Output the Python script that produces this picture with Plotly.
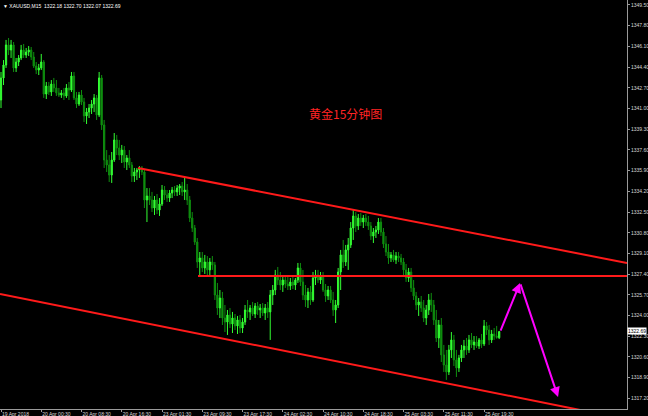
import plotly.graph_objects as go

# ---------------- data (30-minute sampling of the XAUUSD M15 chart) ----------------
close = [1343.51,1344.57,1346.22,1345.80,1346.22,1344.33,1344.82,1345.15,1345.80,1345.39,
         1345.64,1345.80,1345.23,1344.49,1344.16,1344.33,1344.82,1342.19,1342.85,1342.36,
         1343.01,1342.69,1342.28,1342.11,1342.28,1342.03,1342.69,1342.52,1343.67,1341.87,
         1341.37,1342.11,1341.54,1340.39,1340.71,1341.04,1341.37,1341.87,1340.47,1343.51,
         1339.65,1336.77,1336.36,1335.54,1336.77,1338.42,1337.76,1337.18,1337.59,1336.61,
         1336.94,1336.36,1335.46,1335.79,1335.95,1336.12,1335.79,1333.49,1333.82,1333.49,
         1332.83,1333.49,1332.67,1333.16,1334.31,1333.90,1333.65,1334.06,1334.31,1334.15,
         1334.47,1334.64,1334.15,1334.31,1333.49,1332.01,1331.19,1330.04,1328.40,1328.73,
         1327.91,1328.40,1327.75,1328.40,1328.15,1325.69,1324.62,1325.44,1323.80,1323.47,
         1324.05,1323.31,1323.80,1323.15,1323.64,1322.98,1323.47,1324.46,1324.30,1324.62,
         1324.13,1324.79,1324.46,1324.62,1324.21,1324.62,1324.30,1325.69,1326.10,1327.33,
         1326.92,1326.51,1326.92,1326.59,1326.43,1326.76,1326.51,1326.92,1327.91,1326.76,
         1325.69,1325.28,1325.94,1325.28,1327.09,1327.33,1326.92,1327.25,1326.10,1325.61,
         1326.10,1325.28,1324.46,1324.87,1327.58,1328.98,1328.40,1329.39,1329.80,1331.19,
         1332.18,1331.36,1332.01,1331.68,1332.01,1331.68,1331.36,1330.53,1330.86,1331.03,
         1331.68,1330.86,1329.88,1329.22,1328.73,1328.98,1328.57,1328.89,1328.73,1328.40,
         1327.75,1327.09,1327.58,1326.27,1325.61,1324.87,1325.12,1324.62,1323.80,1324.46,
         1325.28,1324.87,1323.64,1322.16,1323.23,1320.77,1319.94,1319.37,1321.18,1322.00,
         1320.36,1319.70,1320.52,1321.18,1321.50,1321.18,1322.00,1321.59,1321.83,1321.50,
         1322.00,1321.67,1323.15,1322.82,1322.00,1322.49,1322.32,1322.20,1322.69]

open_ = [1341.70,1343.51,1344.57,1346.22,1345.80,1346.22,1344.33,1344.82,1345.15,1345.80,
         1345.39,1345.64,1345.80,1345.23,1344.49,1344.16,1344.33,1344.82,1342.19,1342.85,
         1342.36,1343.01,1342.69,1342.28,1342.11,1342.28,1342.03,1342.69,1342.52,1343.67,
         1341.87,1341.37,1342.11,1341.54,1340.39,1340.71,1341.04,1341.37,1341.87,1340.47,
         1343.51,1339.65,1336.77,1336.36,1335.54,1336.77,1338.42,1337.76,1337.18,1337.59,
         1336.61,1336.94,1336.36,1335.46,1335.79,1335.95,1336.12,1335.79,1333.49,1333.82,
         1333.49,1332.83,1333.49,1332.67,1333.16,1334.31,1333.90,1333.65,1334.06,1334.31,
         1334.15,1334.47,1334.64,1334.15,1334.31,1333.49,1332.01,1331.19,1330.04,1328.40,
         1328.73,1327.91,1328.40,1327.75,1328.40,1328.15,1325.69,1324.62,1325.44,1323.80,
         1323.47,1324.05,1323.31,1323.80,1323.15,1323.64,1322.98,1323.47,1324.46,1324.30,
         1324.62,1324.13,1324.79,1324.46,1324.62,1324.21,1324.62,1324.30,1325.69,1326.10,
         1327.33,1326.92,1326.51,1326.92,1326.59,1326.43,1326.76,1326.51,1326.92,1327.91,
         1326.76,1325.69,1325.28,1325.94,1325.28,1327.09,1327.33,1326.92,1327.25,1326.10,
         1325.61,1326.10,1325.28,1324.46,1324.87,1327.58,1328.98,1328.40,1329.39,1329.80,
         1331.19,1332.18,1331.36,1332.01,1331.68,1332.01,1331.68,1331.36,1330.53,1330.86,
         1331.03,1331.68,1330.86,1329.88,1329.22,1328.73,1328.98,1328.57,1328.89,1328.73,
         1328.40,1327.75,1327.09,1327.58,1326.27,1325.61,1324.87,1325.12,1324.62,1323.80,
         1324.46,1325.28,1324.87,1323.64,1322.16,1323.23,1320.77,1319.94,1319.37,1321.18,
         1322.00,1320.36,1319.70,1320.52,1321.18,1321.50,1321.18,1322.00,1321.59,1321.83,
         1321.50,1322.00,1321.67,1323.15,1322.82,1322.00,1322.49,1322.32,1322.18]

high = [1344.00,1344.98,1346.63,1346.79,1346.63,1346.46,1345.15,1345.39,1346.22,1346.30,
        1345.97,1346.13,1346.05,1345.64,1344.82,1344.66,1345.48,1344.98,1343.18,1343.18,
        1343.34,1343.51,1343.34,1342.69,1342.52,1342.69,1343.01,1343.18,1344.00,1344.00,
        1342.36,1342.36,1342.52,1341.87,1341.04,1341.37,1341.70,1342.19,1342.11,1344.00,
        1343.75,1340.06,1337.59,1337.18,1337.43,1338.99,1338.83,1338.42,1338.01,1337.92,
        1337.18,1337.59,1336.61,1336.12,1336.12,1336.28,1336.28,1335.95,1334.47,1334.47,
        1334.15,1333.82,1333.98,1333.65,1334.72,1334.64,1334.31,1334.31,1334.56,1334.64,
        1334.72,1334.80,1334.97,1335.30,1334.80,1333.82,1332.50,1331.44,1330.37,1329.22,
        1329.22,1328.98,1328.89,1328.73,1328.89,1328.40,1326.68,1326.10,1325.94,1324.87,
        1324.46,1324.62,1324.30,1324.13,1323.97,1324.05,1323.80,1324.87,1325.28,1324.87,
        1325.12,1325.03,1325.12,1324.95,1325.03,1324.95,1325.12,1326.10,1326.51,1327.75,
        1327.99,1327.58,1327.25,1327.33,1327.17,1327.09,1327.17,1327.09,1328.32,1328.32,
        1327.75,1326.51,1326.27,1326.43,1327.58,1327.75,1327.75,1327.58,1327.58,1326.59,
        1326.43,1326.43,1325.94,1325.28,1327.91,1329.39,1330.21,1329.80,1330.37,1331.68,
        1332.67,1332.50,1332.34,1332.42,1332.26,1332.34,1332.18,1331.68,1331.19,1331.36,
        1332.01,1332.01,1331.19,1330.53,1329.88,1329.22,1329.39,1329.22,1329.22,1329.06,
        1328.73,1328.24,1327.91,1327.91,1326.92,1325.94,1325.44,1325.61,1325.28,1324.87,
        1325.77,1325.86,1325.28,1324.46,1323.64,1323.80,1321.59,1321.18,1321.59,1322.65,
        1322.41,1321.18,1320.77,1321.59,1322.00,1322.16,1322.41,1322.57,1322.32,1322.32,
        1322.16,1322.49,1323.64,1323.47,1323.23,1322.82,1322.98,1323.15,1322.70]

low = [1341.04,1342.93,1344.33,1345.39,1345.15,1344.00,1344.00,1344.49,1344.98,1345.15,
       1345.15,1345.31,1344.98,1344.33,1343.83,1343.75,1344.16,1341.87,1341.78,1342.11,
       1342.03,1342.36,1342.03,1341.95,1341.87,1341.70,1341.87,1341.70,1342.36,1341.70,
       1341.04,1341.21,1341.29,1339.89,1339.73,1340.22,1340.55,1340.71,1340.06,1340.30,
       1339.24,1336.12,1335.79,1334.97,1334.89,1336.61,1337.18,1336.77,1336.53,1336.12,
       1335.95,1336.12,1334.97,1334.97,1335.13,1335.30,1335.54,1332.83,1331.68,1333.08,
       1332.50,1332.26,1332.34,1332.18,1333.00,1333.49,1333.33,1333.33,1333.65,1333.82,
       1333.82,1333.90,1333.82,1333.49,1333.08,1331.68,1330.86,1329.80,1327.91,1327.33,
       1327.58,1327.42,1327.25,1327.33,1327.75,1325.28,1324.05,1323.80,1323.23,1322.65,
       1322.41,1322.98,1322.57,1322.82,1322.49,1322.57,1322.57,1323.23,1323.80,1323.64,
       1323.97,1323.80,1324.05,1323.80,1323.97,1323.64,1323.80,1322.00,1324.87,1325.69,
       1326.51,1326.10,1325.94,1326.27,1326.10,1326.10,1326.18,1326.10,1326.68,1326.43,
       1325.28,1324.71,1324.62,1324.87,1325.12,1326.51,1326.68,1326.59,1325.94,1325.12,
       1325.28,1325.03,1323.97,1323.39,1324.62,1326.10,1327.91,1328.07,1327.75,1329.55,
       1330.21,1330.86,1331.03,1331.36,1331.19,1331.36,1331.03,1330.21,1329.96,1330.37,
       1330.70,1330.53,1329.55,1328.89,1328.24,1328.40,1328.40,1328.24,1328.40,1328.15,
       1327.33,1326.76,1326.76,1325.94,1325.28,1324.46,1323.97,1324.30,1323.47,1323.23,
       1324.05,1324.30,1323.23,1321.83,1321.34,1320.19,1319.37,1318.72,1319.12,1320.52,
       1319.86,1318.96,1319.37,1320.19,1320.52,1320.77,1320.93,1321.34,1321.18,1321.34,
       1321.26,1321.34,1321.50,1322.41,1321.59,1321.75,1322.00,1322.10,1322.07]

bar_index = list(range(len(close)))

tick_positions = [0, 16, 32, 48, 64, 80, 96, 112, 128, 144, 160, 176, 192]
tick_labels = ["19 Apr 2018", "20 Apr 00:30", "20 Apr 08:30", "20 Apr 16:30",
               "23 Apr 01:30", "23 Apr 09:30", "23 Apr 17:30", "24 Apr 02:30",
               "24 Apr 10:30", "24 Apr 18:30", "25 Apr 03:30", "25 Apr 11:30",
               "25 Apr 19:30"]

price_ticks = [1349.50, 1347.80, 1346.10, 1344.40, 1342.70, 1341.00, 1339.30,
               1337.60, 1335.90, 1334.20, 1332.50, 1330.80, 1329.10, 1327.40,
               1325.70, 1324.00, 1322.30, 1320.60, 1318.90, 1317.20]

# drawn objects (bar index, price)
upper_line_x = [54.45, 248.8]
upper_line_y = [1336.12, 1328.32]
resist_x = [78.3, 248.8]
resist_y = [1327.25, 1327.25]
lower_line_x = [-0.4, 232.1]
lower_line_y = [1325.77, 1316.17]
arrow_path_x = [198.3, 206.3, 221.4]
arrow_path_y = [1322.65, 1326.68, 1317.31]

last_price = 1322.69
title_text = "黄金15分钟图"
header_text = "▼ XAUUSD,M15  1322.18 1322.70 1322.07 1322.69"

# ---------------- figure ----------------
fig = go.Figure()

fig.add_trace(go.Candlestick(
    x=bar_index, open=open_, high=high, low=low, close=close,
    increasing=dict(line=dict(color="#33ff33", width=1), fillcolor="#33ff33"),
    decreasing=dict(line=dict(color="#0f8f0f", width=1), fillcolor="#0f8f0f"),
    whiskerwidth=0, showlegend=False, hoverinfo="skip"))

for xs, ys in [(upper_line_x, upper_line_y), (resist_x, resist_y), (lower_line_x, lower_line_y)]:
    fig.add_trace(go.Scatter(x=xs, y=ys, mode="lines",
                             line=dict(color="#ff1a1a", width=2),
                             showlegend=False, hoverinfo="skip"))

for k in range(len(arrow_path_x) - 1):
    fig.add_annotation(x=arrow_path_x[k + 1], y=arrow_path_y[k + 1],
                       ax=arrow_path_x[k], ay=arrow_path_y[k],
                       xref="x", yref="y", axref="x", ayref="y",
                       showarrow=True, arrowhead=2, arrowsize=1.0,
                       arrowwidth=2, arrowcolor="#ff00ff", text="")

fig.add_annotation(x=345 / 627, y=1 - 103 / 409, xref="paper", yref="paper",
                   text=title_text, showarrow=False,
                   font=dict(family="Noto Sans CJK SC", size=12, color="#ff2424"))

fig.add_annotation(x=0.002, y=0.998, xref="paper", yref="paper",
                   xanchor="left", yanchor="top", text=header_text, showarrow=False,
                   font=dict(family="Liberation Sans", size=5, color="#ffffff"))

fig.add_annotation(x=1.0, y=last_price, xref="paper", yref="y",
                   xanchor="left", yanchor="middle", text=str(last_price),
                   showarrow=False, bgcolor="#ffffff", borderpad=0, yshift=1,
                   font=dict(family="Liberation Sans", size=5, color="#000000"))

axis_font = dict(family="Liberation Sans", size=5, color="#d8d8d8")

fig.update_layout(
    width=648, height=416,
    margin=dict(l=0, r=21, t=0, b=7),
    paper_bgcolor="#000000", plot_bgcolor="#000000",
    showlegend=False,
    xaxis=dict(range=[-0.4, 248.8], rangeslider=dict(visible=False),
               tickmode="array", tickvals=tick_positions, ticktext=tick_labels,
               ticklabelposition="outside right",
               showgrid=False, zeroline=False, showline=True,
               linecolor="#9a9a9a", linewidth=1,
               ticks="outside", ticklen=2, tickcolor="#9a9a9a",
               tickfont=axis_font),
    yaxis=dict(range=[1316.33, 1349.91], side="right",
               tickmode="array", tickvals=price_ticks,
               ticktext=[f"{v:.2f}" for v in price_ticks],
               showgrid=False, zeroline=False, showline=True,
               linecolor="#9a9a9a", linewidth=1,
               ticks="outside", ticklen=2, tickcolor="#9a9a9a",
               tickfont=axis_font),
)

fig.write_html("out.html",
               config={"displayModeBar": False},
               post_script="document.body.style.margin='0px';"
                           "document.body.style.background='#000000';")
